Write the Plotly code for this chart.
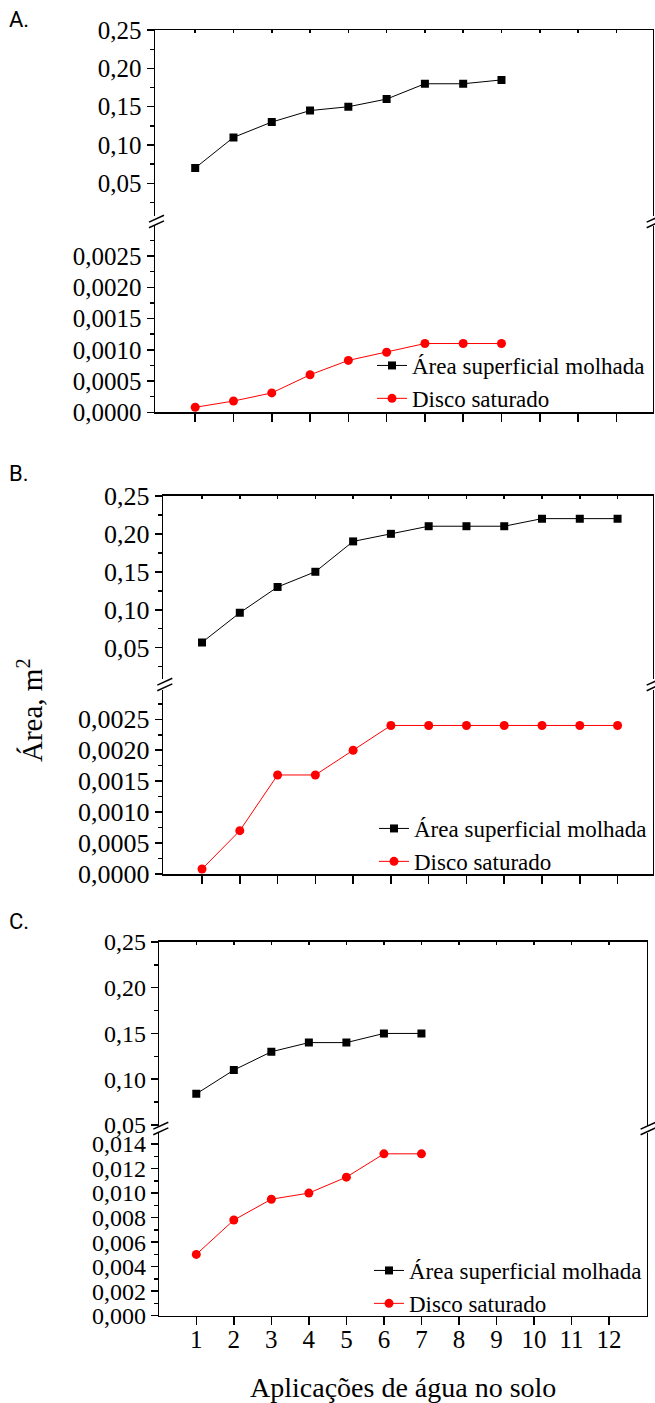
import plotly.graph_objects as go

W, H = 655, 1403

# ---------------- data ----------------
aplic_A = [1, 2, 3, 4, 5, 6, 7, 8, 9]
area_A = [0.07, 0.11, 0.13, 0.145, 0.15, 0.16, 0.18, 0.18, 0.185]
disco_A = [0.00008, 0.00018, 0.00031, 0.0006, 0.00083, 0.00096, 0.0011, 0.0011, 0.0011]

aplic_B = [1, 2, 3, 4, 5, 6, 7, 8, 9, 10, 11, 12]
area_B = [0.057, 0.096, 0.13, 0.15, 0.19, 0.20, 0.21, 0.21, 0.21, 0.22, 0.22, 0.22]
disco_B = [0.00008, 0.0007, 0.0016, 0.0016, 0.0020, 0.0024, 0.0024, 0.0024, 0.0024, 0.0024, 0.0024, 0.0024]

aplic_C = [1, 2, 3, 4, 5, 6, 7]
area_C = [0.084, 0.11, 0.13, 0.14, 0.14, 0.15, 0.15]
disco_C = [0.005, 0.0078, 0.0095, 0.010, 0.0113, 0.0132, 0.0132]

x_tick_vals = [1, 2, 3, 4, 5, 6, 7, 8, 9, 10, 11, 12]
x_tick_text = ["1", "2", "3", "4", "5", "6", "7", "8", "9", "10", "11", "12"]

name_area = "Área superficial molhada"
name_disco = "Disco saturado"
y_title = "Área, m<sup>2</sup>"
x_title = "Aplicações de água no solo"

# ---------------- layout geometry (page pixels) ----------------
panels = [
    dict(label="A.", x=aplic_A, up=area_A, lo=disco_A, fs=25,
         xL=155, xR=652.7, xr=[-0.05, 12.95],
         up_top=30, up_bot=216, up_range=[0.00734, 0.2502], up_dtick=0.05, up_minor=0.025, up_fmt=".2f",
         lo_top=226, lo_bot=412.3, lo_range=[0, 0.00298], lo_dtick=0.0005, lo_minor=0.00025, lo_fmt=".4f",
         brk=221.5, label_y=20, leg_y=382, leg_x=413, show_xlabels=False),
    dict(label="B.", x=aplic_B, up=area_B, lo=disco_B, fs=26,
         xL=163.3, xR=652.7, xr=[-0.025, 12.93],
         up_top=495.7, up_bot=679, up_range=[0.0088, 0.2502], up_dtick=0.05, up_minor=0.025, up_fmt=".2f",
         lo_top=690, lo_bot=874, lo_range=[0, 0.002973], lo_dtick=0.0005, lo_minor=0.00025, lo_fmt=".4f",
         brk=684.5, label_y=473, leg_y=845, leg_x=415, show_xlabels=False),
    dict(label="C.", x=aplic_C, up=area_C, lo=disco_C, fs=24,
         xL=159.3, xR=646.6, xr=[0.014, 13.0],
         up_top=941.7, up_bot=1125.5, up_range=[0.04945, 0.2502], up_dtick=0.05, up_minor=0.025, up_fmt=".2f",
         lo_top=1132.5, lo_bot=1315.7, lo_range=[0, 0.01494], lo_dtick=0.002, lo_minor=0.001, lo_fmt=".3f",
         brk=1128.5, label_y=921.7, leg_y=1287, leg_x=410, show_xlabels=True),
]


def fx(p):
    return p / W


def fy(p):
    return 1 - p / H


def sid(n):
    return "" if n == 1 else str(n)


SERIF = "Liberation Serif, Times New Roman, serif"
LW = 1.5

fig = go.Figure()
layout = dict(
    width=W, height=H, margin=dict(l=0, r=0, t=0, b=0, autoexpand=False),
    paper_bgcolor="white", plot_bgcolor="white",
    separators=",.", showlegend=True, hovermode=False,
    font=dict(family=SERIF, color="black"),
)
shapes = []
annotations = []

for i, p in enumerate(panels):
    lo = 2 * i + 1
    up = 2 * i + 2
    leg = "legend" + sid(i + 1)
    tickfont = dict(family=SERIF, size=p["fs"], color="black")

    fig.add_trace(go.Scatter(
        x=p["x"], y=p["up"], name=name_area, mode="lines+markers",
        line=dict(color="black", width=1),
        marker=dict(symbol="square", size=8, color="black"),
        xaxis="x" + sid(up), yaxis="y" + sid(up), legend=leg))
    fig.add_trace(go.Scatter(
        x=p["x"], y=p["lo"], name=name_disco, mode="lines+markers",
        line=dict(color="#ff0000", width=1),
        marker=dict(symbol="circle", size=9, color="#ff0000"),
        xaxis="x" + sid(lo), yaxis="y" + sid(lo), legend=leg))

    xdom = [fx(p["xL"]), fx(p["xR"])]
    layout["xaxis" + sid(lo)] = dict(
        domain=xdom, range=p["xr"], anchor="y" + sid(lo),
        showline=True, linecolor="black", linewidth=LW,
        ticks="outside", ticklen=8, tickwidth=LW, tickcolor="black",
        tickmode="array", tickvals=x_tick_vals, ticktext=x_tick_text,
        showticklabels=p["show_xlabels"],
        tickfont=dict(family=SERIF, size=25, color="black"),
        ticklabelstandoff=-7,
        showgrid=False, zeroline=False, automargin=False)
    layout["xaxis" + sid(up)] = dict(
        domain=xdom, range=p["xr"], anchor="y" + sid(up), side="top",
        showline=True, linecolor="black", linewidth=LW,
        ticks="inside", ticklen=3, tickwidth=LW, tickcolor="black",
        tickmode="array", tickvals=x_tick_vals,
        showticklabels=False, showgrid=False, zeroline=False, automargin=False)
    layout["yaxis" + sid(lo)] = dict(
        domain=[fy(p["lo_bot"]), fy(p["lo_top"])], range=p["lo_range"],
        anchor="x" + sid(lo), showline=True, mirror=True,
        linecolor="black", linewidth=LW,
        ticks="outside", ticklen=7, tickwidth=LW, tickcolor="black",
        tick0=0, dtick=p["lo_dtick"], tickformat=p["lo_fmt"], tickfont=tickfont,
        minor=dict(dtick=p["lo_minor"], tick0=0, ticks="outside", ticklen=4,
                   tickwidth=LW, tickcolor="black", showgrid=False),
        showgrid=False, zeroline=False, automargin=False)
    layout["yaxis" + sid(up)] = dict(
        domain=[fy(p["up_bot"]), fy(p["up_top"])], range=p["up_range"],
        anchor="x" + sid(up), showline=True, mirror=True,
        linecolor="black", linewidth=LW,
        ticks="outside", ticklen=7, tickwidth=LW, tickcolor="black",
        tick0=0, dtick=p["up_dtick"], tickformat=p["up_fmt"], tickfont=tickfont,
        minor=dict(dtick=p["up_minor"], tick0=0, ticks="outside", ticklen=4,
                   tickwidth=LW, tickcolor="black", showgrid=False),
        showgrid=False, zeroline=False, automargin=False)

    layout[leg] = dict(
        x=fx(p["leg_x"] - 41), y=fy(p["leg_y"]), xanchor="left", yanchor="middle",
        bgcolor="rgba(0,0,0,0)", borderwidth=0,
        font=dict(family=SERIF, size=23, color="black"),
        tracegroupgap=0)

    # axis-break marks (two slanted strokes on each side)
    for xc in (p["xL"], p["xR"]):
        for off in (-2.8, 2.8):
            yc = p["brk"] + off
            shapes.append(dict(
                type="line", xref="paper", yref="paper",
                x0=fx(xc - 6), y0=fy(yc + 3.4), x1=fx(xc + 9), y1=fy(yc - 3.4),
                line=dict(color="black", width=1.5)))

    annotations.append(dict(
        text=p["label"], x=fx(7), y=fy(p["label_y"]), xref="paper", yref="paper",
        xanchor="left", yanchor="middle", showarrow=False,
        font=dict(family="Liberation Sans Narrow, Roboto, sans-serif", size=22, color="black")))

annotations.append(dict(
    text=y_title, x=fx(30), y=fy(710), xref="paper", yref="paper",
    xanchor="center", yanchor="middle", textangle=-90, showarrow=False,
    font=dict(family=SERIF, size=29, color="black")))
annotations.append(dict(
    text=x_title, x=fx(403), y=fy(1387), xref="paper", yref="paper",
    xanchor="center", yanchor="middle", showarrow=False,
    font=dict(family=SERIF, size=28, color="black")))

layout["shapes"] = shapes
layout["annotations"] = annotations
fig.update_layout(**layout)

# remove the default page margin / scrollbars so the figure fills the window exactly
page_css = ("document.documentElement.style.margin='0';"
            "document.documentElement.style.overflow='hidden';"
            "document.body.style.margin='0';"
            "document.body.style.overflow='hidden';")
fig.write_html("out.html", post_script=page_css,
               config={"displayModeBar": False, "staticPlot": True})
